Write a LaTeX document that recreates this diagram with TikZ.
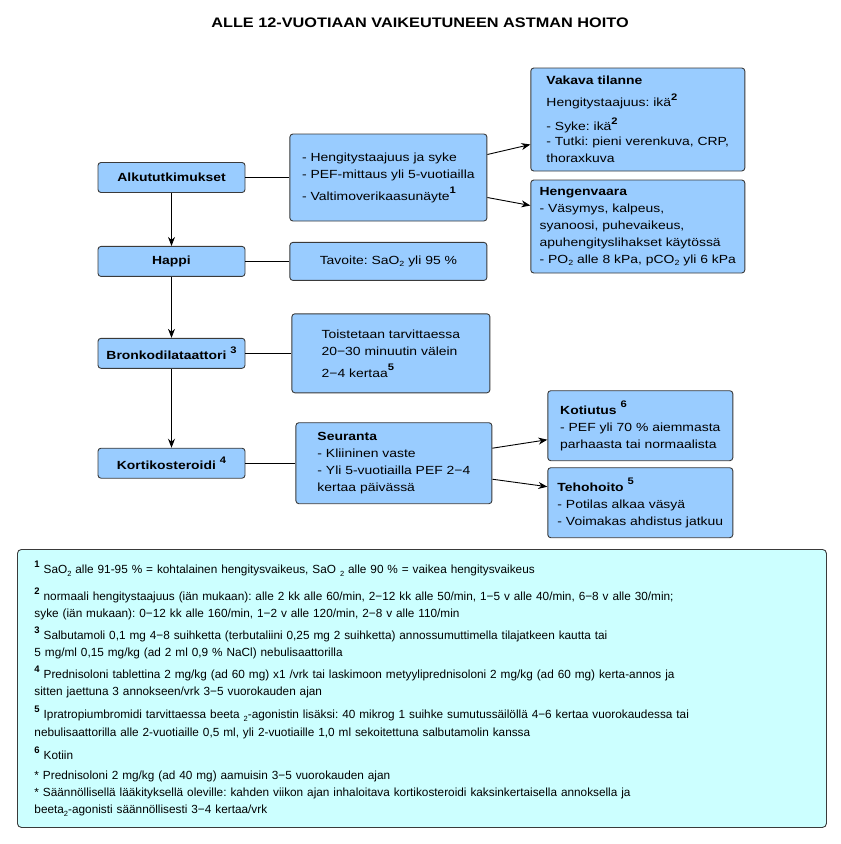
\documentclass[tikz,border=0pt]{standalone}
\usepackage{fontspec}
\setmainfont{Liberation Sans}
\newfontfamily\boxfont[FakeStretch=1.18]{Liberation Sans}
\usetikzlibrary{arrows.meta,positioning}

\definecolor{boxblue}{HTML}{99CCFF}
\definecolor{noteblue}{HTML}{CCFFFF}
\definecolor{edgegray}{HTML}{3A3A3A}
\newcommand\fnum[1]{\raisebox{6.5pt}{\fontsize{9.5}{9.5}\selectfont\bfseries #1}}
\newcommand\lowsub[1]{\raisebox{-2.5pt}{\fontsize{7.5}{7.5}\selectfont #1}}
\frenchspacing

\begin{document}
\begin{tikzpicture}[
    x=1pt, y=-1pt,
    box/.style={rectangle, draw=edgegray, fill=boxblue, line width=0.9pt, rounded corners=3pt, inner sep=0pt, align=left, font=\boxfont\fontsize{11.8}{17}\selectfont},
    stepname/.style={box, minimum width=147pt, minimum height=30pt, font=\boxfont\fontsize{11.8}{17}\selectfont\bfseries},
    line/.style={line width=0.9pt},
    arrow/.style={line, -{Stealth[length=9pt,width=7pt]}}
]
    \useasboundingbox (0,0) rectangle (841,844);

    \node[font=\boxfont\fontsize{13.8}{14}\selectfont\bfseries, anchor=base] (otsikko) at (420,27) {ALLE 12-VUOTIAAN VAIKEUTUNEEN ASTMAN HOITO};

    % main steps
    \node[stepname] (alku) at (171.5,177.5) {Alkututkimukset};
    \node[stepname, below=53pt of alku] (happi) {Happi};
    \node[stepname, below=61pt of happi] (bronko) {Bronkodilataattori \fnum{3}};
    \node[stepname, below=79pt of bronko] (kortiko) {Kortikosteroidi \fnum{4}};

    % details
    \node[box, minimum width=197pt, minimum height=87pt, right=44pt of alku] (tutkimus) {- Hengitystaajuus ja syke\\- PEF-mittaus yli 5-vuotiailla\\[5pt]- Valtimoverikaasunäyte\fnum{1}};
    \node[box, minimum width=197pt, minimum height=38pt, right=44pt of happi] (tavoite) {Tavoite: SaO\lowsub{2} yli 95 \%};
    \node[box, minimum width=198pt, minimum height=79pt, right=46pt of bronko] (toisto) {Toistetaan tarvittaessa\\20−30 minuutin välein\\[5pt]2−4 kertaa\fnum{5}};
    \node[box, minimum width=196pt, minimum height=81pt, right=50pt of kortiko] (seuranta) {\textbf{Seuranta}\\- Kliininen vaste\\- Yli 5-vuotiailla PEF 2−4\\kertaa päivässä};

    \node[box, minimum width=214pt, minimum height=103pt, right=43pt of tutkimus, yshift=58pt] (vakava) {\textbf{Vakava tilanne}\\[5pt]Hengitystaajuus: ikä\fnum{2}\\[7pt]- Syke: ikä\fnum{2}\\[-2pt]- Tutki: pieni verenkuva, CRP,\\thoraxkuva};
    \node[box, minimum width=214pt, minimum height=93pt, right=43pt of tutkimus, yshift=-49pt] (hengen) {\textbf{Hengenvaara}\\- Väsymys, kalpeus,\\syanoosi, puhevaikeus,\\apuhengityslihakset käytössä\\- PO\lowsub{2} alle 8 kPa, pCO\lowsub{2} yli 6 kPa};
    \node[box, minimum width=185pt, minimum height=70pt, right=55pt of seuranta, yshift=37.5pt] (kotiutus) {\textbf{Kotiutus} \fnum{6}\\- PEF yli 70 \% aiemmasta\\parhaasta tai normaalista};
    \node[box, minimum width=185pt, minimum height=70pt, right=55pt of seuranta, yshift=-39.5pt] (teho) {\textbf{Tehohoito} \fnum{5}\\- Potilas alkaa väsyä\\- Voimakas ahdistus jatkuu};

    % footnotes
    \node[box, fill=noteblue, anchor=north west, text width=775pt, inner xsep=17pt, minimum height=278pt, rounded corners=4pt, font=\fontsize{11.8}{17}\selectfont] (huomiot) at (17,549) {%
        \fnum{1} SaO\lowsub{2} alle 91-95 \% = kohtalainen hengitysvaikeus, SaO \lowsub{2} alle 90 \% = vaikea hengitysvaikeus\\[10pt]
        \fnum{2} normaali hengitystaajuus (iän mukaan): alle 2 kk alle 60/min, 2−12 kk alle 50/min, 1−5 v alle 40/min, 6−8 v alle 30/min;\\
        syke (iän mukaan): 0−12 kk alle 160/min, 1−2 v alle 120/min, 2−8 v alle 110/min\\[5pt]
        \fnum{3} Salbutamoli 0,1 mg 4−8 suihketta (terbutaliini 0,25 mg 2 suihketta) annossumuttimella tilajatkeen kautta tai\\
        5 mg/ml 0,15 mg/kg (ad 2 ml 0,9 \% NaCl) nebulisaattorilla\\[5pt]
        \fnum{4} Prednisoloni tablettina 2 mg/kg (ad 60 mg) x1 /vrk tai laskimoon metyyliprednisoloni 2 mg/kg (ad 60 mg) kerta-annos ja\\
        sitten jaettuna 3 annokseen/vrk 3−5 vuorokauden ajan\\[6pt]
        \fnum{5} Ipratropiumbromidi tarvittaessa beeta \lowsub{2}-agonistin lisäksi: 40 mikrog 1 suihke sumutussäilöllä 4−6 kertaa vuorokaudessa tai\\[1pt]
        nebulisaattorilla alle 2-vuotiaille 0,5 ml, yli 2-vuotiaille 1,0 ml sekoitettuna salbutamolin kanssa\\[6pt]
        \fnum{6} Kotiin\\[3pt]
        {*} Prednisoloni 2 mg/kg (ad 40 mg) aamuisin 3−5 vuorokauden ajan\\
        {*} Säännöllisellä lääkityksellä oleville: kahden viikon ajan inhaloitava kortikosteroidi kaksinkertaisella annoksella ja\\
        beeta\lowsub{2}-agonisti säännöllisesti 3−4 kertaa/vrk};

    \draw[arrow] (alku) -- (happi);
    \draw[arrow] (happi) -- (bronko);
    \draw[arrow] (bronko) -- (kortiko);
    \draw[line] (alku) -- (tutkimus);
    \draw[line] (happi) -- (tavoite);
    \draw[line] (bronko) -- (toisto);
    \draw[line] (kortiko) -- (seuranta);
    \draw[arrow] ([yshift=23pt]tutkimus.east) -- ([yshift=-25pt]vakava.west);
    \draw[arrow] ([yshift=-20pt]tutkimus.east) -- ([yshift=21pt]hengen.west);
    \draw[arrow] ([yshift=15pt]seuranta.east) -- ([yshift=-14pt]kotiutus.west);
    \draw[arrow] ([yshift=-16pt]seuranta.east) -- ([yshift=16pt]teho.west);
\end{tikzpicture}
\end{document}
